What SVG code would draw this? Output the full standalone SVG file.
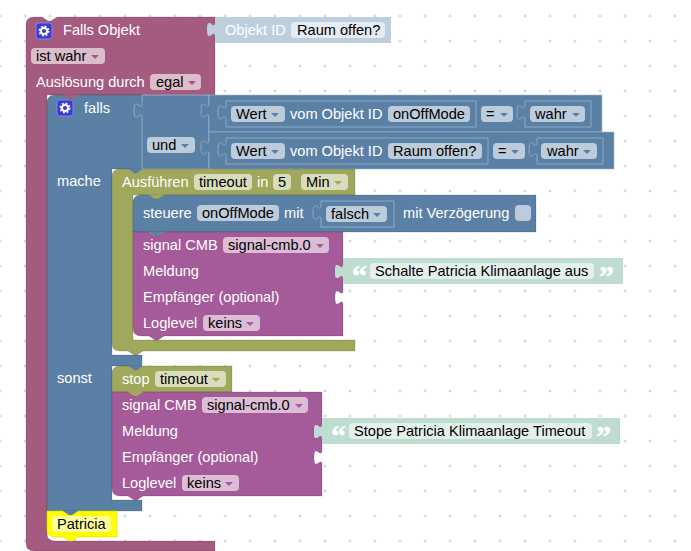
<svg xmlns="http://www.w3.org/2000/svg" width="691" height="551" viewBox="0 0 691 551">
<defs>
<pattern id="grid" x="0" y="16" width="25" height="25" patternUnits="userSpaceOnUse">
<path d="M-1.5 0H1.5M0 -1.5V1.5M23.5 0H26.5M25 -1.5V1.5M-1.5 25H1.5M0 23.5V26.5M23.5 25H26.5M25 23.5V26.5" stroke="#ccc" stroke-width="1" fill="none"/>
</pattern>
<g id="gear"><rect x="0" y="0" width="16" height="16" rx="3" fill="#3a3adb" stroke="#8f8fe8" stroke-width=".8"/><circle cx="8" cy="8" r="3.2" fill="none" stroke="#fff" stroke-width="2.2"/><circle cx="8" cy="8" r="4.8" fill="none" stroke="#fff" stroke-width="1.4" stroke-dasharray="1.8 1.97"/></g>
</defs>
<style>
text{font-family:"Liberation Sans",Arial,Helvetica,sans-serif;font-size:14.6px;white-space:pre}
.w{fill:#fff}.k{fill:#000}
.q{font-family:"Liberation Serif",serif;font-size:30px;font-weight:bold;fill:#fff;stroke:#fff;stroke-width:.4}
.b{stroke:#000;stroke-opacity:.14;stroke-width:1}
.pink{fill:#a55b80}.blue{fill:#5b80a5}.green{fill:#a0a85c}.mag{fill:#a55b99}.ltx{fill:#bfdcd1}.lbl{fill:#bdcedf}
.fb{fill:#bdccdb}.fp{fill:#dbbdcc}.fg{fill:#d9dcbd}.fm{fill:#dbbdd6}.ft{fill:#e3f0eb}.fl{fill:#e4ebf2}
.ab{fill:#5b80a5}.ap{fill:#a55b80}.ag{fill:#a0a85c}.am{fill:#a55b99}
</style>
<rect width="691" height="551" fill="#fff"/>
<rect width="691" height="551" fill="url(#grid)"/>

<g id="block-falls-objekt">
<path class="pink b" d="M26,25 Q26,17 34,17 H42 l6,4 3,0 6,-4 H215 V95 H47 V533 Q47,541 55,541 H215 V551 H34 Q26,551 26,543 Z"/>
<use href="#gear" x="36" y="23"/>
<text class="w" x="63" y="35">Falls Objekt</text>
<rect class="fp" x="31" y="48" width="74" height="16" rx="4"/><text class="k" x="36" y="61">ist wahr</text><path class="ap" d="M91,55h8l-4,4z"/>
<text class="w" x="36" y="87">Auslösung durch</text>
<rect class="fp" x="150" y="74" width="51" height="16" rx="4"/><text class="k" x="156" y="87">egal</text><path class="ap" d="M188,81h8l-4,4z"/>
</g>

<g id="block-objekt-id">
<path class="lbl" d="M215,17 H391 V43 H215 V37 c0,-10 -8,8 -8,-7.5 s8,2.5 8,-7.5 Z"/>
<text class="w" x="225" y="35">Objekt ID</text>
<rect class="fl" x="291" y="22" width="94" height="16" rx="4"/><text class="k" x="297" y="35">Raum offen?</text>
</g>

<g id="block-falls">
<path class="pink" d="M63,95 l6,4 3,0 6,-4 Z"/>
<path class="blue b" d="M47,103 Q47,95 55,95 H63 l6,4 3,0 6,-4 H142 V169 H112 V355 H142 V366 H112 V500 H142 V511 H47 Z"/>
<path class="blue" d="M128,169 l6,4 3,0 6,-4 Z M128,366 l6,4 3,0 6,-4 Z M63,511 l6,4 3,0 6,-4 Z"/>
<use href="#gear" x="57" y="100"/>
<text class="w" x="84" y="113">falls</text>
<text class="w" x="57" y="186">mache</text>
<text class="w" x="57" y="383">sonst</text>
</g>

<g id="block-und">
<path class="blue" d="M142,95 H209 V169 H142 V118 c0,-10 -8,8 -8,-7.5 s8,2.5 8,-7.5 Z" stroke="#a3bad1" stroke-width=".8"/>
<rect class="fb" x="147" y="137" width="48" height="16" rx="4"/><text class="k" x="152" y="150">und</text><path class="ab" d="M181,144h8l-4,4z"/>
</g>

<g id="block-vergleich-1">
<path class="blue" d="M209,95 H602 V132 H209 V118 c0,-10 -8,8 -8,-7.5 s8,2.5 8,-7.5 Z" stroke="#a3bad1" stroke-width=".6"/>
<path class="blue" d="M226,101 H476 V127 H226 V120 c0,-10 -8,8 -8,-7.5 s8,2.5 8,-7.5 Z" stroke="#8fa9c3"/>
<rect class="fb" x="231" y="106" width="54" height="16" rx="4"/><text class="k" x="236" y="119">Wert</text><path class="ab" d="M271,113h8l-4,4z"/>
<text class="w" x="290" y="119">vom Objekt ID</text>
<rect class="fb" x="388" y="106" width="82" height="16" rx="4"/><text class="k" x="393" y="119">onOffMode</text>
<rect class="fb" x="481" y="106" width="32" height="16" rx="4"/><text class="k" x="486" y="119">=</text><path class="ab" d="M500,113h8l-4,4z"/>
<path class="blue" d="M525,101 H591 V127 H525 V120 c0,-10 -8,8 -8,-7.5 s8,2.5 8,-7.5 Z" stroke="#8fa9c3"/>
<rect class="fb" x="530" y="106" width="55" height="16" rx="4"/><text class="k" x="535" y="119">wahr</text><path class="ab" d="M572,113h8l-4,4z"/>
</g>

<g id="block-vergleich-2">
<path class="blue" d="M209,132 H614 V169 H209 V155 c0,-10 -8,8 -8,-7.5 s8,2.5 8,-7.5 Z" stroke="#a3bad1" stroke-width=".6"/>
<path class="blue" d="M226,138 H488 V164 H226 V157 c0,-10 -8,8 -8,-7.5 s8,2.5 8,-7.5 Z" stroke="#8fa9c3"/>
<rect class="fb" x="231" y="143" width="54" height="16" rx="4"/><text class="k" x="236" y="156">Wert</text><path class="ab" d="M271,150h8l-4,4z"/>
<text class="w" x="290" y="156">vom Objekt ID</text>
<rect class="fb" x="388" y="143" width="94" height="16" rx="4"/><text class="k" x="393" y="156">Raum offen?</text>
<rect class="fb" x="493" y="143" width="32" height="16" rx="4"/><text class="k" x="498" y="156">=</text><path class="ab" d="M511,150h8l-4,4z"/>
<path class="blue" d="M537,138 H603 V164 H537 V157 c0,-10 -8,8 -8,-7.5 s8,2.5 8,-7.5 Z" stroke="#8fa9c3"/>
<rect class="fb" x="541" y="143" width="56" height="16" rx="4"/><text class="k" x="547" y="156">wahr</text><path class="ab" d="M583,150h8l-4,4z"/>
</g>

<g id="block-ausfuehren">
<rect x="133" y="328" width="14" height="12" fill="#fff"/>
<path class="green b" d="M112,177 Q112,169 120,169 H128 l6,4 3,0 6,-4 H355 V195 H133 V340 H355 V351 H143 l-6,4 -3,0 -6,-4 H120 Q112,351 112,343 Z"/>
<path class="green" d="M149,195 l6,4 3,0 6,-4 Z"/>
<text class="w" x="122" y="187">Ausführen</text>
<rect class="fg" x="194" y="174" width="58" height="16" rx="4"/><text class="k" x="199" y="187">timeout</text>
<text class="w" x="257" y="187">in</text>
<rect class="fg" x="273" y="174" width="18" height="16" rx="4"/><text class="k" x="278" y="187">5</text>
<rect class="fg" x="301" y="174" width="47" height="16" rx="4"/><text class="k" x="306" y="187">Min</text><path class="ag" d="M334,181h8l-4,4z"/>
</g>

<g id="block-steuere">
<path class="blue b" d="M133,203 Q133,195 141,195 H149 l6,4 3,0 6,-4 H536 V232 H133 Z"/>
<text class="w" x="143" y="218">steuere</text>
<rect class="fb" x="197" y="205" width="82" height="16" rx="4"/><text class="k" x="202" y="218">onOffMode</text>
<text class="w" x="284" y="218">mit</text>
<path class="blue" d="M321,201 H394 V227 H321 V220 c0,-10 -8,8 -8,-7.5 s8,2.5 8,-7.5 Z" stroke="#8fa9c3"/>
<rect class="fb" x="326" y="206" width="61" height="16" rx="4"/><text class="k" x="331" y="219">falsch</text><path class="ab" d="M373,213h8l-4,4z"/>
<text class="w" x="403" y="218">mit Verzögerung</text>
<rect class="fb" x="515" y="205" width="16" height="16" rx="4"/>
</g>

<g id="block-signal-1">
<path class="mag b" d="M133,232 H149 l6,4 3,0 6,-4 H343 V264 c0,10 -8,-8 -8,7.5 s8,-2.5 8,7.5 V290 c0,10 -8,-8 -8,7.5 s8,-2.5 8,7.5 V336 H164 l-6,4 -3,0 -6,-4 H141 Q133,336 133,328 Z"/>
<path class="blue" d="M149,232 l6,4 3,0 6,-4 Z"/>
<text class="w" x="143" y="250">signal CMB</text>
<rect class="fm" x="223" y="237" width="106" height="16" rx="4"/><text class="k" x="228" y="250">signal-cmb.0</text><path class="am" d="M316,244h8l-4,4z"/>
<text class="w" x="143" y="276">Meldung</text>
<text class="w" x="143" y="302">Empfänger (optional)</text>
<text class="w" x="143" y="328">Loglevel</text>
<rect class="fm" x="203" y="315" width="57" height="16" rx="4"/><text class="k" x="208" y="328">keins</text><path class="am" d="M246,322h8l-4,4z"/>
</g>

<g id="block-text-1">
<path class="ltx" d="M343,258 H623 V284 H343 V279 c0,-10 -8,8 -8,-7.5 s8,2.5 8,-7.5 Z"/>
<text class="q" x="352" y="286">“</text>
<rect class="ft" x="370" y="263" width="224" height="16" rx="4"/><text class="k" x="375" y="276">Schalte Patricia Klimaanlage aus</text>
<text class="q" x="599" y="286">”</text>
</g>

<g id="block-stop">
<path class="green b" d="M112,374 Q112,366 120,366 H128 l6,4 3,0 6,-4 H232 V392 H143 l-6,4 -3,0 -6,-4 H112 Z"/>
<text class="w" x="122" y="384">stop</text>
<rect class="fg" x="155" y="371" width="71" height="16" rx="4"/><text class="k" x="160" y="384">timeout</text><path class="ag" d="M212,378h8l-4,4z"/>
</g>

<g id="block-signal-2">
<path class="mag b" d="M112,392 H128 l6,4 3,0 6,-4 H322 V424 c0,10 -8,-8 -8,7.5 s8,-2.5 8,7.5 V450 c0,10 -8,-8 -8,7.5 s8,-2.5 8,7.5 V496 H143 l-6,4 -3,0 -6,-4 H120 Q112,496 112,488 Z"/>
<path class="green" d="M128,392 l6,4 3,0 6,-4 Z"/>
<text class="w" x="122" y="410">signal CMB</text>
<rect class="fm" x="202" y="397" width="106" height="16" rx="4"/><text class="k" x="207" y="410">signal-cmb.0</text><path class="am" d="M295,404h8l-4,4z"/>
<text class="w" x="122" y="436">Meldung</text>
<text class="w" x="122" y="462">Empfänger (optional)</text>
<text class="w" x="122" y="488">Loglevel</text>
<rect class="fm" x="182" y="475" width="57" height="16" rx="4"/><text class="k" x="187" y="488">keins</text><path class="am" d="M225,482h8l-4,4z"/>
</g>

<g id="block-text-2">
<path class="ltx" d="M322,418 H620 V444 H322 V439 c0,-10 -8,8 -8,-7.5 s8,2.5 8,-7.5 Z"/>
<text class="q" x="331" y="446">“</text>
<rect class="ft" x="349" y="423" width="243" height="16" rx="4"/><text class="k" x="354" y="436">Stope Patricia Klimaanlage Timeout</text>
<text class="q" x="596" y="446">”</text>
</g>

<g id="block-patricia">
<path fill="#ffff00" stroke="#d9d900" stroke-width=".6" d="M47,511 H63 l6,4 3,0 6,-4 H117 V537 H78 l-6,4 -3,0 -6,-4 H55 Q47,537 47,529 Z"/>
<path class="blue" d="M63,511 l6,4 3,0 6,-4 Z"/>
<rect fill="#ffff99" x="52" y="516" width="59" height="16" rx="4"/><text class="k" x="57" y="529">Patricia</text>
</g>
<g id="connectors"/>
</svg>
